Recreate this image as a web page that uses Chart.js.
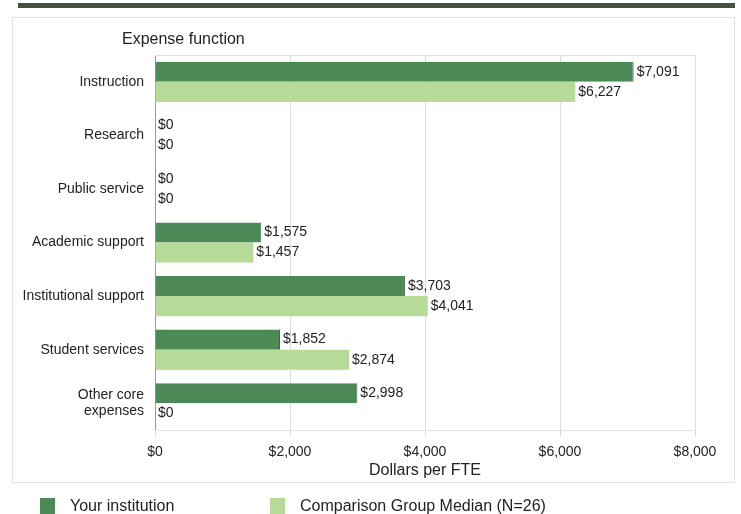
<!DOCTYPE html>
<html>
<head>
<meta charset="utf-8">
<script src="https://cdn.jsdelivr.net/npm/chart.js@4.4.0/dist/chart.umd.min.js"></script>
<style>
  html, body { margin: 0; padding: 0; background: #fff; }
  body { width: 741px; height: 514px; position: relative; overflow: hidden; font-family: "Liberation Sans", Arial, sans-serif; color: #222; }
  #wrap { position: absolute; left: 0; top: 0; width: 741px; height: 514px; }
  .band { position: absolute; left: 18px; top: 3px; width: 717px; height: 5px; background: #45513f; }
  .frame { position: absolute; left: 12px; top: 17px; width: 723px; height: 466px; border: 1px solid #e2e2e2; box-sizing: border-box; }
  .heading { position: absolute; left: 122px; top: 30px; font-size: 16px; }
  .legend { position: absolute; top: 496px; font-size: 16px; }
  .legend span.box { position: absolute; top: 2px; width: 15px; height: 18px; }
  .legend span.txt { position: absolute; left: 30px; top: 1px; white-space: nowrap; }
</style>
</head>
<body>
<div class="band"></div>
<div class="frame"></div>
<div id="wrap"><canvas id="bars" width="741" height="514"></canvas></div>
<div class="heading">Expense function</div>
<div class="legend" style="left:40px"><span class="box" style="background:#4d8857"></span><span class="txt">Your institution</span></div>
<div class="legend" style="left:270px"><span class="box" style="background:#b6db98"></span><span class="txt">Comparison Group Median (N=26)</span></div>
<script>
const categories = ['Instruction', 'Research', 'Public service', 'Academic support',
    'Institutional support', 'Student services', ['Other core', 'expenses']]
const yourInstitution = [7091, 0, 0, 1575, 3703, 1852, 2998]
const comparisonMedian = [6227, 0, 0, 1457, 4041, 2874, 0]
const xTicks = [0, 2000, 4000, 6000, 8000]

const money = v => '$' + v.toLocaleString('en-US')

// value labels at the end of each bar
const valueLabels = {
    id: 'valueLabels',
    afterDatasetsDraw(chart) {
        const ctx = chart.ctx
        ctx.save()
        ctx.font = '14px "Liberation Sans", Arial, sans-serif'
        ctx.fillStyle = '#222'
        ctx.textBaseline = 'middle'
        chart.data.datasets.forEach((ds, i) => {
            chart.getDatasetMeta(i).data.forEach((bar, j) => {
                ctx.fillText(money(ds.data[j]), bar.x + 3, bar.y)
            })
        })
        ctx.restore()
    }
}

// light lines on top and bottom of the plot area
const plotBox = {
    id: 'plotBox',
    beforeDatasetsDraw(chart) {
        const a = chart.chartArea
        const ctx = chart.ctx
        ctx.save()
        ctx.strokeStyle = '#e0e0e0'
        ctx.lineWidth = 1
        ctx.beginPath()
        ctx.moveTo(a.left, a.top + 0.5)
        ctx.lineTo(a.right, a.top + 0.5)
        ctx.moveTo(a.left, a.bottom + 0.5)
        ctx.lineTo(a.right, a.bottom + 0.5)
        ctx.stroke()
        ctx.restore()
    }
}

const barConfig = {
    type: 'bar',
    data: {
        labels: categories,
        datasets: [
            {
                label: 'Your institution',
                data: yourInstitution,
                backgroundColor: '#4d8857',
                borderColor: '#3c6a44',
                borderWidth: { right: 1 },
                categoryPercentage: 0.75,
                barPercentage: 1.0,
            },
            {
                label: 'Comparison Group Median (N=26)',
                data: comparisonMedian,
                backgroundColor: '#b6db98',
                categoryPercentage: 0.75,
                barPercentage: 1.0,
            },
        ],
    },
    options: {
        indexAxis: 'y',
        responsive: false,
        animation: false,
        layout: { padding: { top: 55, right: 46, left: 0, bottom: 0 } },
        plugins: {
            legend: { display: false },
            tooltip: { enabled: false },
        },
        scales: {
            x: {
                min: 0,
                max: 8000,
                afterFit: axis => { axis.height = 84 },
                afterBuildTicks: axis => { axis.ticks = xTicks.map(v => ({ value: v })) },
                grid: { color: '#dcdcdc', tickLength: 6, drawTicks: true },
                border: { display: false },
                ticks: {
                    padding: 8,
                    color: '#222',
                    font: { family: '"Liberation Sans", Arial, sans-serif', size: 14 },
                    callback: v => money(v),
                },
                title: {
                    display: true,
                    text: 'Dollars per FTE',
                    color: '#222',
                    font: { family: '"Liberation Sans", Arial, sans-serif', size: 16 },
                    padding: { top: 0, bottom: 34 },
                },
            },
            y: {
                afterFit: axis => { axis.width = 155 },
                grid: { display: false },
                border: { display: true, color: '#999' },
                ticks: {
                    padding: 3,
                    color: '#222',
                    font: { family: '"Liberation Sans", Arial, sans-serif', size: 14 },
                },
            },
        },
    },
    plugins: [valueLabels, plotBox],
}

const barsCtx = document.getElementById('bars')
window.myBar = new Chart(barsCtx, barConfig)
</script>
</body>
</html>
